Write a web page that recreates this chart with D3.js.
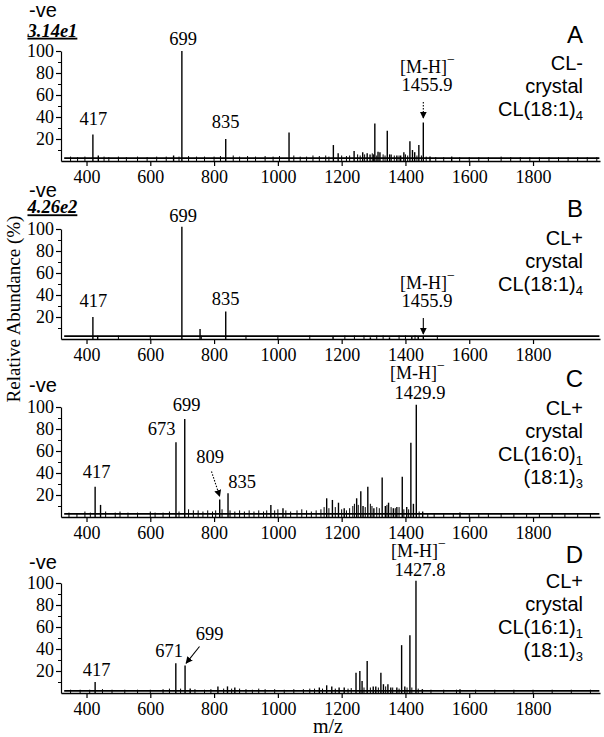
<!DOCTYPE html>
<html><head><meta charset="utf-8">
<script src="https://cdn.jsdelivr.net/npm/d3@7"></script>
<style>body{margin:0;background:#fff}svg{display:block}</style>
</head><body>
<script>
// ---------------- data ----------------
const xTicks = [400, 600, 800, 1000, 1200, 1400, 1600, 1800];
const yTicks = [20, 40, 60, 80, 100];
const yMinorTicks = [10, 30, 50, 70, 90];
const xDomain = [320, 2010];

const panelLetters = ["A", "B", "C", "D"];
const panelLabels = [
  ["CL-", "crystal", ["CL(18:1)", "4"]],
  ["CL+", "crystal", ["CL(18:1)", "4"]],
  ["CL+", "crystal", ["CL(16:0)", "1"], ["(18:1)", "3"]],
  ["CL+", "crystal", ["CL(16:1)", "1"], ["(18:1)", "3"]]
];
const scaleLabels = ["3.14e1", "4.26e2", null, null];
const precursorLabels = ["1455.9", "1455.9", "1429.9", "1427.8"];
const precursorMz = [1456, 1456, 1434, 1433];
const floorLevels = [2.6, 2.6, 2.8, 2.0];

const peaksA = [[420,24],[437,5],[673,5],[699,100],[836.5,20],[1035,26],[1174,14.5],[1189,7],[1239,9],[1266,8],[1280,7],[1289,6],[1304,34],[1314,8.5],[1320,8],[1343,27.5],[1355,6],[1373,5],[1385,5],[1395,8],[1414,18],[1422,10],[1429,8],[1442,14.5],[1456,35],[1477,4],[1545,4]];
const noiseA = [[350,4],[372,3.5],[395,4],[455,4],[470,3.5],[500,4],[525,3.5],[560,4],[590,3.5],[620,4],[650,4],[690,4],[720,4.5],[745,4],[770,4],[800,4],[820,4.5],[860,5],[880,4],[905,4.5],[930,4],[960,4.5],[985,4],[1005,4.5],[1050,5],[1070,4],[1090,4],[1110,5],[1130,4.5],[1150,5],[1160,4],[1200,5],[1215,4.5],[1225,5],[1250,6],[1258,5],[1272,6],[1296,7],[1300,6],[1310,5],[1330,6],[1336,5],[1350,6],[1365,5],[1380,5],[1400,6],[1407,5],[1436,5],[1450,5],[1465,4],[1495,3.5],[1520,3.5],[1570,3.5],[1600,3.5],[1630,3.5],[1660,3.5],[1700,4],[1730,3.5],[1760,3.5],[1790,3.5],[1820,3.5],[1850,3.5],[1880,3.5],[1910,3.5],[1940,3.5],[1970,3.5],[2000,3.5]];

const peaksB = [[420,20],[435,3],[699,102],[756,9],[836.5,25],[1173,2.5],[1290,1.5],[1350,1.5],[1420,2],[1440,2],[1456,2.5]];
const noiseB = [[500,3],[600,3],[760,3],[900,3],[1000,3],[1100,3.2],[1210,3.2],[1240,3.2],[1270,3.2],[1310,3.2],[1330,3.2],[1380,3.2],[1400,3.2],[1430,3.4],[1500,3]];

const peaksC = [[427,27.5],[444,11],[680.5,68],[708,89],[817.6,16],[843.7,21.5],[978,11],[1016,8],[1153,17],[1171,15.5],[1190,13],[1208,8],[1247,17],[1260,23.5],[1267,10],[1282,27.5],[1301,8],[1327,36],[1337,10],[1347,13],[1362,8],[1373,9],[1390,36.5],[1404,9],[1417,67.5],[1425,12],[1434,102],[1454,5],[1571,4]];
const noiseC = [[345,4],[370,3.5],[395,5],[412,4],[460,5],[490,4],[505,5],[530,4],[560,4],[600,5],[615,4],[640,4],[660,5],[690,5],[720,7],[735,6],[750,6],[765,5],[780,6],[795,5],[805,6],[825,7],[850,6],[865,5],[880,6],[895,5],[910,6],[925,5],[940,6],[955,5],[965,6],[990,6],[1000,7],[1025,6],[1040,5],[1060,6],[1075,7],[1090,6],[1105,5],[1120,6],[1135,7],[1145,9],[1160,8],[1180,9],[1200,7],[1215,6],[1225,8],[1235,10],[1240,12],[1252,11],[1274,9],[1290,12],[1295,10],[1310,9],[1318,8],[1342,11],[1355,9],[1368,8],[1380,9],[1395,7],[1410,7],[1443,5],[1470,3.5],[1490,3],[1520,3],[1550,3],[1600,3],[1630,3],[1660,3],[1700,3.5],[1740,3],[1780,3],[1820,3],[1860,3],[1900,3],[1940,3],[1980,3]];

const peaksD = [[427,10],[680,27],[709,25],[725,4],[812,6],[842,6],[865,5],[1130,5],[1153,7],[1169,6],[1192,5],[1208,5],[1245,18.5],[1257,20],[1264,11],[1280,29],[1299,6],[1307,6],[1323,18.5],[1331,8],[1345,8],[1354,5],[1373,5],[1388,43.5],[1398,6],[1414,52.5],[1433,102],[1453,3.5],[1571,3.5]];
const noiseD = [[350,3],[380,3],[410,3],[450,3.5],[480,3],[520,3],[560,3],[600,3],[640,3.5],[660,4],[695,4],[740,3.5],[770,3],[790,3.5],[830,4],[855,4],[880,4],[900,3.5],[920,3],[940,4],[960,3.5],[990,3.5],[1020,3],[1050,3.5],[1080,3.5],[1100,4],[1115,4],[1140,4],[1180,4],[1220,4],[1230,4.5],[1270,5],[1290,5],[1315,5],[1338,6],[1360,5],[1380,4],[1405,5],[1420,5],[1440,4],[1480,3],[1520,3],[1560,3],[1620,3],[1680,3],[1740,3],[1800,3],[1860,3],[1920,3],[1980,3]];

const peakLabelsA = [["417",420],["699",699],["835",836.5]];
const peakLabelsB = [["417",420],["699",699],["835",836.5]];
const peakLabelsC = [["417",427],["673",680.5],["699",708],["809",817.6],["835",843.7]];
const peakLabelsD = [["417",427],["671",680],["699",709]];

// ---------------- layout ----------------
const W = 604, H = 737;
const SERIF = "'Liberation Serif','Times New Roman',serif";
const SANS = "'Liberation Sans',Arial,sans-serif";
const plotH = 110;
const baselines = [161, 339, 517, 693];
const peakSets = [peaksA, peaksB, peaksC, peaksD];
const noiseSets = [noiseA, noiseB, noiseC, noiseD];
const labelSets = [peakLabelsA, peakLabelsB, peakLabelsC, peakLabelsD];
const labelPos = [
  [[93.3,125],[183,45],[225.7,127.7]],
  [[93.3,306.7],[183,221.7],[225.7,305]],
  [[96.5,477.7],[161.7,435],[186.5,411],[210,463.3],[242,487.5]],
  [[96.5,675.7],[169,656.7],[209.7,640]]
];
const precLayout = [
  {mh:[400,73], num:[427,91], arr:[102,118], dotted:true},
  {mh:[400,289], num:[427,307], arr:[318,334], dotted:false},
  {mh:[390,379], num:[420,399], arr:null},
  {mh:[391,557], num:[420,576], arr:null}
];
const rightLayout = [
  {letter:43, lines:[70,93,116]},
  {letter:217, lines:[245,268,291]},
  {letter:387, lines:[415,438,461,484]},
  {letter:563, lines:[588,611,634,657]}
];
const veY = [17, 197, 392, 569];
const scaleY = [36.7, 213.3];

const svg = d3.select("body").append("svg").attr("width", W).attr("height", H)
  .style("background", "#fff");

const defs = svg.append("defs");
defs.append("marker").attr("id","ah").attr("viewBox","0 0 10 10").attr("refX",9).attr("refY",5)
  .attr("markerWidth",7).attr("markerHeight",7).attr("markerUnits","userSpaceOnUse").attr("orient","auto")
  .append("path").attr("d","M0,0L10,5L0,10z").attr("fill","#000");

const x = d3.scaleLinear().domain(xDomain).range([61, 600]);

baselines.forEach((base, i) => {
  const g = svg.append("g");
  const y = d3.scaleLinear().domain([0, 100]).range([base, base - plotH]);

  g.append("line").attr("x1", x(330)).attr("x2", x(2008))
    .attr("y1", y(floorLevels[i])).attr("y2", y(floorLevels[i]))
    .attr("stroke", "#000").attr("stroke-width", 1.8);

  g.selectAll(".n").data(noiseSets[i]).enter().append("line")
    .attr("x1", d => x(d[0])).attr("x2", d => x(d[0]))
    .attr("y1", y(0)).attr("y2", d => y(d[1]))
    .attr("stroke", "#000").attr("stroke-width", 1);

  g.selectAll(".p").data(peakSets[i]).enter().append("line")
    .attr("x1", d => x(d[0])).attr("x2", d => x(d[0]))
    .attr("y1", y(0)).attr("y2", d => y(d[1]))
    .attr("stroke", "#000").attr("stroke-width", 1.4);

  const xa = g.append("g").attr("transform", `translate(0,${y(0)})`)
    .call(d3.axisBottom(x).tickValues(xTicks).tickSize(5).tickSizeOuter(0).tickPadding(4).tickFormat(d3.format("d")));
  xa.attr("font-family", SERIF).attr("font-size", 18);
  xa.select(".domain").attr("stroke-width", 1.5);
  xa.selectAll("line").attr("stroke-width", 1.2);
  xa.selectAll("text").style("font-family", SERIF).style("font-size", "18px").attr("fill", "#000");

  const ya = g.append("g").attr("transform", `translate(${x.range()[0]},0)`)
    .call(d3.axisLeft(y).tickValues(yTicks).tickSize(5).tickSizeOuter(0).tickPadding(2));
  ya.attr("font-family", SERIF).attr("font-size", 18);
  ya.select(".domain").attr("stroke-width", 1.2);
  ya.selectAll("line").attr("stroke-width", 1.2);
  ya.selectAll("text").style("font-family", SERIF).style("font-size", "18px").attr("fill", "#000");
  const ym = g.append("g").attr("transform", `translate(${x.range()[0]},0)`)
    .call(d3.axisLeft(y).tickValues(yMinorTicks).tickSize(3).tickFormat(""));
  ym.select(".domain").remove();
  ym.selectAll("line").attr("stroke-width", 1);

  g.append("text").attr("x", 29).attr("y", veY[i]).style("font-family", SANS).attr("font-size", 20).text("-ve");

  if (scaleLabels[i]) {
    g.append("text").attr("x", 27.5).attr("y", scaleY[i]).style("font-family", SERIF)
      .attr("font-size", 18.5).attr("font-weight", "bold").attr("font-style", "italic")
      .attr("text-decoration", "underline").text(scaleLabels[i]);
  }

  labelSets[i].forEach((lab, j) => {
    g.append("text").attr("x", labelPos[i][j][0]).attr("y", labelPos[i][j][1])
      .attr("text-anchor", "middle").style("font-family", SERIF).attr("font-size", 18.5).text(lab[0]);
  });

  const pl = precLayout[i];
  const mh = g.append("text").attr("x", pl.mh[0]).attr("y", pl.mh[1])
    .style("font-family", SERIF).attr("font-size", 18);
  mh.append("tspan").text("[M-H]");
  mh.append("tspan").attr("dy", -9).attr("font-size", 14).text("\u2212");
  g.append("text").attr("x", pl.num[0]).attr("y", pl.num[1]).attr("text-anchor", "middle")
    .style("font-family", SERIF).attr("font-size", 18.5).text(precursorLabels[i]);
  if (pl.arr) {
    g.append("line").attr("x1", x(precursorMz[i])).attr("x2", x(precursorMz[i]))
      .attr("y1", pl.arr[0]).attr("y2", pl.arr[1])
      .attr("stroke", "#000").attr("stroke-width", 1.1)
      .attr("stroke-dasharray", pl.dotted ? "1.5,1.5" : null)
      .attr("marker-end", "url(#ah)");
  }

  const rl = rightLayout[i];
  g.append("text").attr("x", 583).attr("y", rl.letter).attr("text-anchor", "end")
    .style("font-family", SANS).attr("font-size", 24).text(panelLetters[i]);
  panelLabels[i].forEach((ln, k) => {
    const t = g.append("text").attr("x", 583).attr("y", rl.lines[k]).attr("text-anchor", "end")
      .style("font-family", SANS).attr("font-size", 20);
    if (Array.isArray(ln)) {
      t.append("tspan").text(ln[0]);
      t.append("tspan").attr("dy", 4).attr("font-size", 13).text(ln[1]);
    } else t.text(ln);
  });
});

{
  const yC = d3.scaleLinear().domain([0, 100]).range([baselines[2], baselines[2] - plotH]);
  svg.append("line").attr("x1", 211.5).attr("y1", 471.5).attr("x2", x(817.6)).attr("y2", yC(17) - 2)
    .attr("stroke", "#000").attr("stroke-width", 1.1).attr("stroke-dasharray", "1.5,1.5")
    .attr("marker-end", "url(#ah)");
  const yD = d3.scaleLinear().domain([0, 100]).range([baselines[3], baselines[3] - plotH]);
  svg.append("line").attr("x1", 199.5).attr("y1", 646.5).attr("x2", x(709) + 1).attr("y2", yD(27))
    .attr("stroke", "#000").attr("stroke-width", 1.1).attr("marker-end", "url(#ah)");
}

svg.append("text").attr("transform", "translate(20,309) rotate(-90)").attr("text-anchor", "middle")
  .style("font-family", SERIF).attr("font-size", 19).text("Relative Abundance (%)");
svg.append("text").attr("x", 328).attr("y", 733).attr("text-anchor", "middle")
  .style("font-family", SERIF).attr("font-size", 20).text("m/z");
</script>
</body></html>
